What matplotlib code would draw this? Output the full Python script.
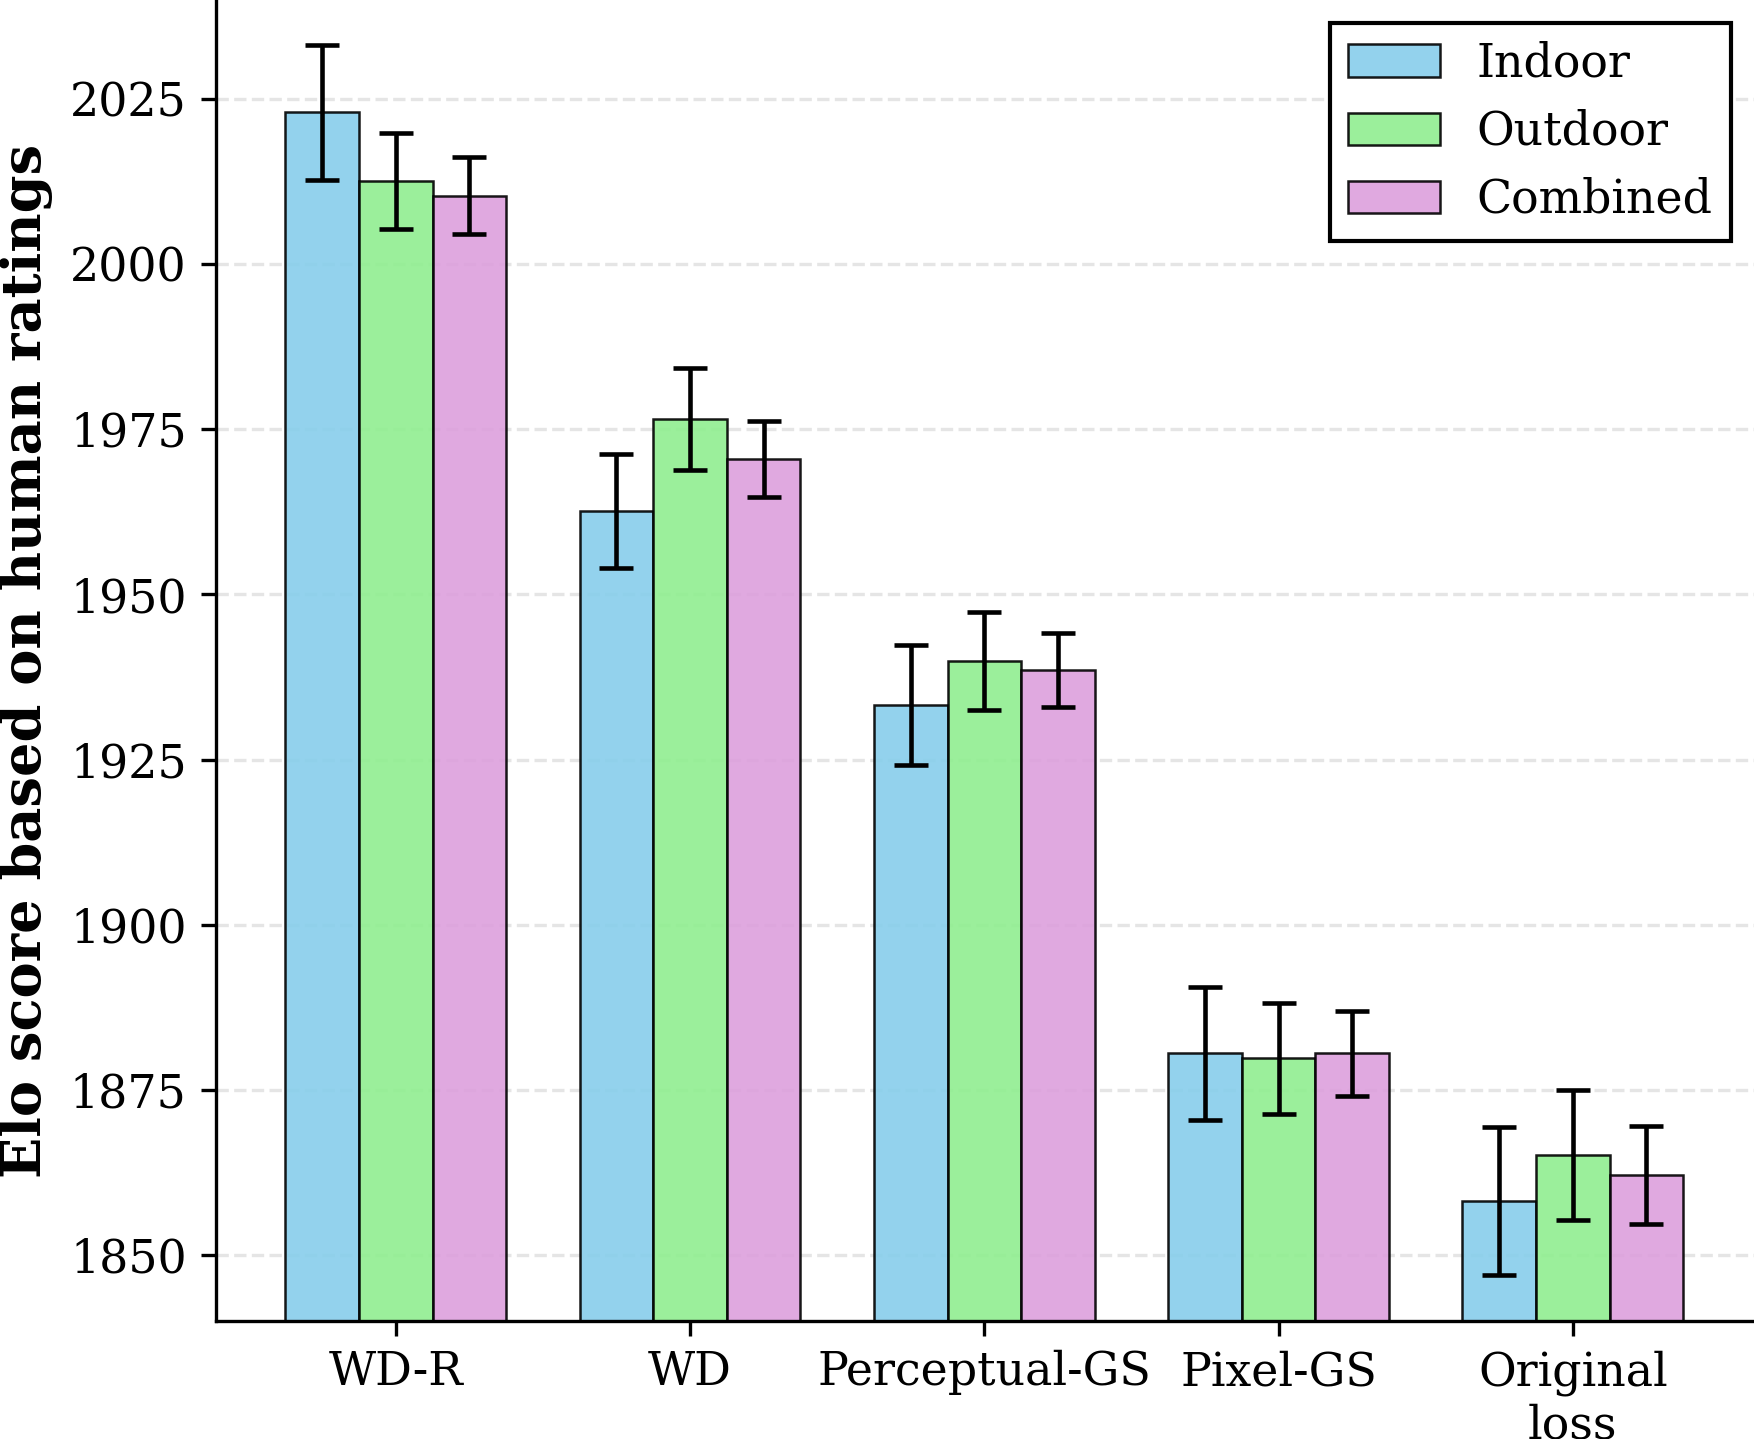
import numpy as np
import matplotlib
matplotlib.use("Agg")
import matplotlib.pyplot as plt

plt.rcParams['font.family'] = ['DejaVu Serif']

methods = ['WD-R', 'WD', 'Perceptual-GS', 'Pixel-GS', 'Original\nloss']
groups = ['Indoor', 'Outdoor', 'Combined']
colors = ['skyblue', 'lightgreen', 'plum']

indoor = [2023.0, 1962.6, 1933.3, 1880.5, 1858.2]
indoor_err = [10.2, 8.6, 9.1, 10.1, 11.2]
outdoor = [2012.6, 1976.6, 1939.9, 1879.8, 1865.1]
outdoor_err = [7.2, 7.7, 7.4, 8.4, 9.8]
combined = [2010.4, 1970.5, 1938.5, 1880.5, 1862.1]
combined_err = [5.9, 5.7, 5.6, 6.5, 7.4]

values = [indoor, outdoor, combined]
errors = [indoor_err, outdoor_err, combined_err]

fig = plt.figure(figsize=(1754 / 300, 1439 / 300), dpi=300)
ax = fig.add_axes([0.123, 0.082, 0.877, 0.918])

x = np.arange(len(methods))
width = 0.25
for i, (name, vals, errs, c) in enumerate(zip(groups, values, errors, colors)):
    ax.bar(x + (i - 1) * width, vals, width, yerr=errs, label=name,
           color=c, alpha=0.9, edgecolor='black', linewidth=0.6,
           capsize=4, error_kw={'elinewidth': 1.1, 'capthick': 1.1, 'ecolor': 'black'},
           zorder=2)

ax.set_ylim(1840, 2040)
ax.set_xlim(-0.612, 4.616)
ax.set_yticks([1850, 1875, 1900, 1925, 1950, 1975, 2000, 2025])
ax.set_xticks(x)
ax.set_xticklabels(methods, fontsize=11)
ax.tick_params(axis='y', labelsize=11)
ax.set_ylabel('Elo score based on human ratings', fontsize=13, fontweight='bold')

ax.yaxis.grid(True, linestyle='--', color='#cccccc', alpha=0.5, linewidth=0.8, zorder=0)
ax.set_axisbelow(True)
ax.spines['top'].set_visible(False)
ax.spines['right'].set_visible(False)

leg = ax.legend(loc='upper right', fontsize=11, fancybox=False, framealpha=1,
                edgecolor='black')
leg.get_frame().set_linewidth(1.0)

fig.savefig('out.png', dpi=300)
